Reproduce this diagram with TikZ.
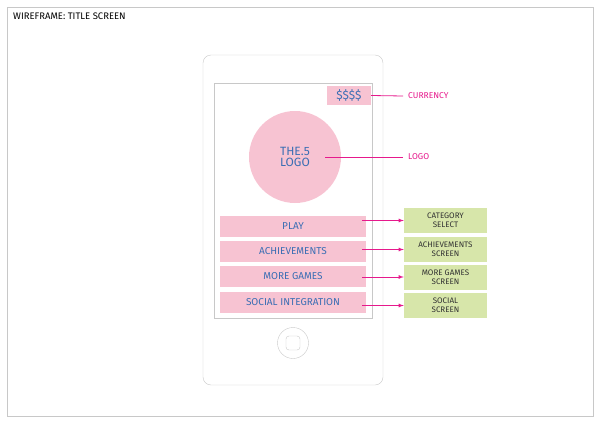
\documentclass[tikz,border=0pt]{standalone}
\usepackage{fontspec}
\setmainfont{Fira Sans}
\usetikzlibrary{positioning}
\definecolor{pinkfill}{HTML}{F7C3D2}
\definecolor{btntext}{HTML}{3B6EB4}
\definecolor{magenta}{HTML}{E6198C}
\definecolor{greenfill}{HTML}{D7E6AA}
\definecolor{framegray}{HTML}{C8C8C8}
\begin{document}
\begin{tikzpicture}[x=1pt,y=-1pt,
  button/.style = {fill=pinkfill,minimum width=146pt,minimum height=21pt,inner sep=0pt,text=btntext,font=\fontsize{10}{11}\selectfont},
  target/.style = {fill=greenfill,minimum width=83pt,minimum height=25pt,inner sep=0pt,align=center,text=black!80,font=\fontsize{8}{9}\selectfont},
  callout/.style = {text=magenta,font=\fontsize{8.5}{10}\selectfont,anchor=west,inner sep=0pt},
  link/.style = {magenta,thick,-latex}]
  \useasboundingbox (0,0) rectangle (600,423);
  \draw[framegray] (7,7) rectangle (593,416);
  \node[anchor=west,inner sep=0pt,font=\fontsize{9.5}{11}\selectfont] (title) at (13,16) {WIREFRAME: TITLE SCREEN};

  % phone
  \draw[framegray,rounded corners=8pt] (203,55) rectangle (383,385);
  \draw[framegray] (214,83) rectangle (372,318);
  \draw[framegray] (293,343) circle (15.5);
  \draw[framegray,rounded corners=3pt] (286,336) rectangle (300,350);

  % screen content
  \node[fill=pinkfill,minimum width=44pt,minimum height=19pt,inner sep=0pt,text=btntext,font=\fontsize{12}{13}\selectfont] (money) at (349,95.5) {\$\$\$\$};
  \node[circle,fill=pinkfill,minimum size=92pt,inner sep=0pt,align=center,text=btntext,font=\fontsize{12}{13}\selectfont] (logo) at (295,157) {THE.5\\[-2pt]LOGO};
  \node[button] (play) at (293,226) {PLAY};
  \node[button] (achv) at (293,251.5) {ACHIEVEMENTS};
  \node[button] (more) at (293,276.5) {MORE GAMES};
  \node[button] (social) at (293,302.5) {SOCIAL INTEGRATION};

  % callouts
  \node[callout] (currency) at (408,96) {CURRENCY};
  \node[callout] (logolabel) at (408,157) {LOGO};
  \draw[magenta,thick] (money.east) -- ([xshift=-5pt]currency.west);
  \draw[magenta,thick] ([xshift=-16pt]logo.east) -- ([xshift=-5pt]logolabel.west);

  % targets
  \node[target] (cat) at (445.5,220.5) {CATEGORY\\SELECT};
  \node[target] (achvscr) at (445.5,249.5) {ACHIEVEMENTS\\SCREEN};
  \node[target] (morescr) at (445.5,277) {MORE GAMES\\SCREEN};
  \node[target] (socialscr) at (445.5,305.5) {SOCIAL\\SCREEN};

  \draw[link] ([xshift=-4pt]cat.west -| play.east) -- (cat.west);
  \draw[link] ([xshift=-4pt]achvscr.west -| achv.east) -- (achvscr.west);
  \draw[link] ([xshift=-4pt]morescr.west -| more.east) -- (morescr.west);
  \draw[link] ([xshift=-4pt]socialscr.west -| social.east) -- (socialscr.west);
\end{tikzpicture}
\end{document}
